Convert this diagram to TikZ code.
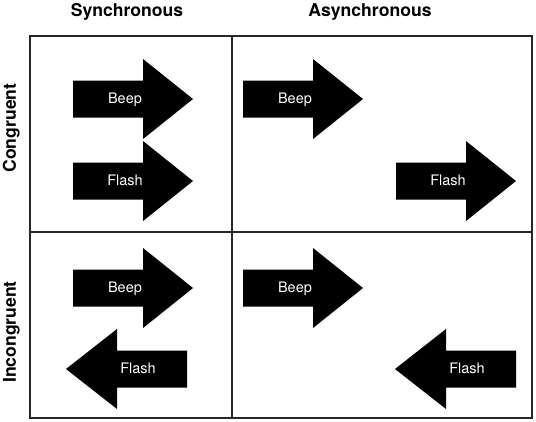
\documentclass[tikz,border=0pt]{standalone}
\usepackage{fontspec}
\setmainfont{TeX Gyre Heros}
\begin{document}
\begin{tikzpicture}[x=1pt,y=-1pt,
  hdr/.style={font=\fontsize{17.6}{20}\selectfont\bfseries, inner sep=0pt, anchor=base},
  lbl/.style={font=\fontsize{14.5}{16}\selectfont, text=white, inner sep=0pt, anchor=base},
  grid/.style={line width=1.8pt, draw=black!85}]
\useasboundingbox (0,0) rectangle (536,421);
% grid
\draw[grid] (30,36) rectangle (532,418);
\coordinate (vt) at (232,36);
\coordinate (vb) at (232,418);
\coordinate (hl) at (30,232);
\coordinate (hr) at (532,232);
\draw[grid] (vt) -- (vb);
\draw[grid] (hl) -- (hr);
% headers
\node[hdr] (sync) at (127,16.5) {Synchronous};
\node[hdr] (async) at (370,16.5) {Asynchronous};
\node[hdr, rotate=90] (cong) at (16,128) {Congruent};
\node[hdr, rotate=90] (incong) at (16,332) {Incongruent};
% arrows
\newcommand\RArrow[4]{%
  \fill (#2,#3-18.5) -- (#2+70,#3-18.5) -- (#2+70,#3-40) -- (#2+120,#3)
    -- (#2+70,#3+40) -- (#2+70,#3+18.5) -- (#2,#3+18.5) -- cycle;
  \node[lbl] (#1) at (#2+52,#3+4.5) {#4};}
\newcommand\LArrow[4]{%
  \fill (#2,#3-18.5) -- (#2-70,#3-18.5) -- (#2-70,#3-40) -- (#2-121,#3)
    -- (#2-70,#3+40) -- (#2-70,#3+18.5) -- (#2,#3+18.5) -- cycle;
  \node[lbl] (#1) at (#2-49,#3+4.5) {#4};}
\RArrow{scb}{73}{99}{Beep}
\RArrow{scf}{73}{181}{Flash}
\RArrow{acb}{243}{99}{Beep}
\RArrow{acf}{396}{181}{Flash}
\RArrow{sib}{73}{288}{Beep}
\RArrow{aib}{243}{288}{Beep}
\LArrow{sif}{187}{369}{Flash}
\LArrow{aif}{516}{369}{Flash}
\end{tikzpicture}
\end{document}
